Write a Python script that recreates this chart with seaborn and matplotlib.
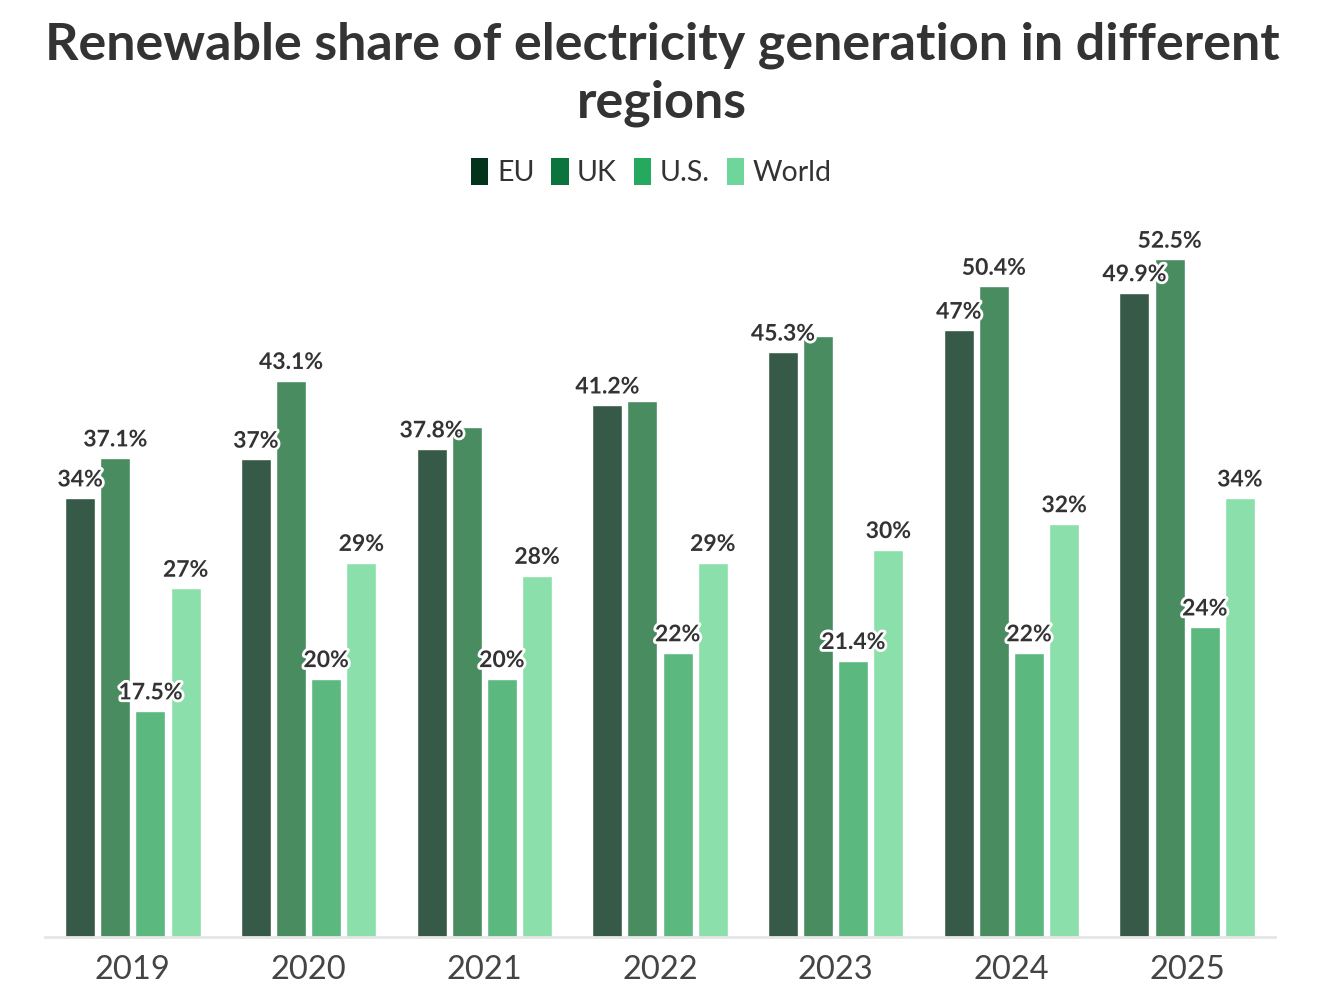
import pandas as pd
import matplotlib.pyplot as plt
import matplotlib.patheffects as pe
from matplotlib.patches import Patch
import seaborn as sns

# values
years = ['2019', '2020', '2021', '2022', '2023', '2024', '2025']
regions = ['EU', 'UK', 'U.S.', 'World']
eu = [34, 37, 37.8, 41.2, 45.3, 47, 49.9]
uk = [37.1, 43.1, 39.5, 41.5, 46.6, 50.4, 52.5]
us = [17.5, 20, 20, 22, 21.4, 22, 24]
world = [27, 29, 28, 29, 30, 32, 34]

bar_colors = ['#365a47', '#488c60', '#5bb97f', '#8bdfaa']
legend_colors = ['#04331c', '#0a743c', '#24a95e', '#6fd69b']

datos = pd.DataFrame({
    'Year': years * 4,
    'Region': [r for r in regions for _ in years],
    'Share': eu + uk + us + world,
})

sns.set_style("white")
plt.rcParams['font.family'] = ['Lato', 'DejaVu Sans']
texto = '#333333'

fig = plt.figure(figsize=(13.24, 10.01), dpi=100)
ax = fig.add_axes([0.034, 0.064, 0.929, 0.722])

sns.barplot(data=datos, x='Year', y='Share', hue='Region', order=years,
            hue_order=regions, palette=bar_colors, width=0.8, gap=0.145,
            saturation=1, legend=False, ax=ax)

ax.set_ylim(0, 56)
ax.set_xlim(-0.5, 6.5)
ax.set_xlabel('')
ax.set_ylabel('')
ax.set_yticks([])
for s in ['top', 'right', 'left']:
    ax.spines[s].set_visible(False)
ax.spines['bottom'].set_color('#e6e6e6')
ax.spines['bottom'].set_linewidth(2)
ax.tick_params(axis='x', length=10, width=1.5, color='#e6e6e6',
               labelsize=23.5, labelcolor='#444444', pad=3)

# value labels; the UK label is hidden where it would collide with the EU one
contorno = [pe.withStroke(linewidth=4, foreground='white')]
for serie, cont in zip(regions, ax.containers):
    vals = datos[datos['Region'] == serie]['Share'].tolist()
    for i, (bar, v) in enumerate(zip(cont, vals)):
        if serie == 'UK' and v - eu[i] < 2:
            continue
        txt = f'{v:g}%'
        ax.text(bar.get_x() + bar.get_width() / 2, bar.get_height() + 0.6, txt,
                ha='center', va='bottom', fontsize=16.5, fontweight='bold',
                color=texto, path_effects=contorno)

fig.text(0.5, 0.979, 'Renewable share of electricity generation in different\nregions',
         ha='center', va='top', fontsize=37.5, fontweight='bold', color=texto,
         linespacing=1.3)

manijas = [Patch(facecolor=c, edgecolor='none') for c in legend_colors]
fig.legend(manijas, regions, loc='center', bbox_to_anchor=(0.492, 0.828), ncol=4,
           frameon=False, fontsize=20.5, handlelength=0.6, handleheight=1.1,
           handletextpad=0.3, columnspacing=0.6, labelcolor=texto)

plt.savefig('out.png', dpi=100)
